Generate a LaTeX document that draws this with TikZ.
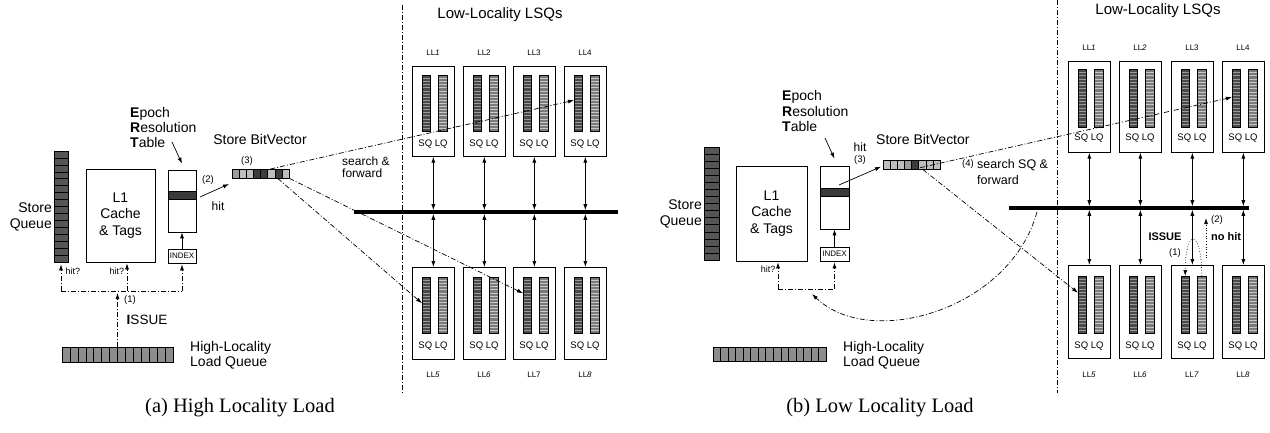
\documentclass[tikz,border=0pt]{standalone}
\usepackage{fontspec}
\setmainfont{Liberation Sans}
\newfontfamily\capfont{Liberation Serif}
\usetikzlibrary{arrows.meta,calc}
\definecolor{sqdark}{HTML}{4A4A4A}
\definecolor{sqline}{HTML}{9A9A9A}
\definecolor{lqmid}{HTML}{7A7A7A}
\definecolor{lqline}{HTML}{C8C8C8}
\definecolor{stq}{HTML}{555555}
\definecolor{ldq}{HTML}{8C8C8C}
\definecolor{bvl}{HTML}{BEBEBE}
\definecolor{bvm}{HTML}{9C9C9C}
\definecolor{bvd}{HTML}{3C3C3C}
\definecolor{band}{HTML}{3A3A3A}
\tikzset{
  vcells/.style n args={3}{path picture={\foreach \k in {1,...,#1}{\pgfmathsetmacro\ff{\k/#2}\draw[#3] ($(path picture bounding box.north west)!\ff!(path picture bounding box.south west)$) -- ($(path picture bounding box.north east)!\ff!(path picture bounding box.south east)$);}}},
  hcells/.style n args={3}{path picture={\foreach \k in {1,...,#1}{\pgfmathsetmacro\ff{\k/#2}\draw[#3] ($(path picture bounding box.north west)!\ff!(path picture bounding box.north east)$) -- ($(path picture bounding box.south west)!\ff!(path picture bounding box.south east)$);}}},
  lsqbox/.style={draw, line width=0.7pt, minimum width=42, inner sep=0, anchor=north west},
  sqc/.style={draw, line width=0.5pt, fill=sqdark, minimum width=8, inner sep=0, anchor=north west, vcells={17}{18}{sqline,line width=0.6pt}},
  lqc/.style={draw, line width=0.5pt, fill=lqmid, minimum width=9, inner sep=0, anchor=north west, vcells={17}{18}{lqline,line width=0.6pt}},
  plainbox/.style={draw, line width=0.7pt, inner sep=0},
  t14/.style={inner sep=0, font=\fontsize{14}{16}\selectfont},
  t12/.style={inner sep=0, font=\fontsize{12}{12.5}\selectfont},
  t95/.style={inner sep=0, font=\fontsize{9.5}{11}\selectfont},
  t9/.style={inner sep=0, font=\fontsize{9}{10}\selectfont},
  t8/.style={inner sep=0, font=\fontsize{8}{9}\selectfont},
  capt/.style={inner sep=0, font=\capfont\fontsize{20.5}{22}\selectfont},
  arr/.style={-{Latex[length=6pt,width=4pt]}, line width=0.7pt},
  dblarr/.style={{Latex[length=6pt,width=4pt]}-{Latex[length=6pt,width=4pt]}, line width=0.7pt},
  dd/.style={line width=0.6pt, dash pattern=on 5pt off 2pt on 1pt off 2pt},
  bus/.style={line width=3.5pt},
}
\newcommand\lsq[9]{%
  \node[lsqbox, minimum height=#4] (#1) at (#2,#3) {};
  \node[sqc, minimum height=#6] (#1sq) at (#2+10,#3+#5) {};
  \node[lqc, minimum height=#6] (#1lq) at (#2+26,#3+#5) {};
  \node[t95] (#1txt) at (#2+21,#3+#7) {SQ LQ};
  \node[t8] (#1lab) at (#2+21,#9) {#8};
}
\begin{document}
\begin{tikzpicture}[x=1pt,y=-1pt]
\useasboundingbox (0,0) rectangle (1270,433);

%%%%%%%%%%%%%%%% (a) LEFT PANEL %%%%%%%%%%%%%%%%
\node[draw, line width=0.6pt, fill=stq, minimum width=14, minimum height=111, inner sep=0, vcells={15}{16}{black,line width=0.5pt}] (aSQ) at (61,206.5) {};
\node[t14, align=right, anchor=east] (aSQt) at (52,217) {Store\\Queue};
\node[plainbox, minimum width=69, minimum height=93] (aL1) at (120.5,215.5) {};
\node[t14, align=center, font=\fontsize{14}{16.8}\selectfont] (aL1t) at (aL1) {L1\\Cache\\\& Tags};
\node[plainbox, minimum width=28, minimum height=62] (aERT) at (182,201) {};
\draw[fill=band, line width=0.6pt] (168,191) rectangle (196,199);
\node[plainbox, minimum width=28, minimum height=14, font=\fontsize{8}{9}\selectfont] (aIDX) at (182,256) {INDEX};
\node[t14, align=left, anchor=west, font=\fontsize{14}{15}\selectfont] (aERTt) at (130,127) {\textbf{E}poch\\\textbf{R}esolution\\\textbf{T}able};
\coordinate (aERTa) at (172,142);
\draw[arr] (aERTa) -- ([yshift=6pt]aERT.north);
\draw[arr] (aIDX.north) -- (aERT.south);

% bit vector
\foreach \c [count=\i from 0] in {bvm,bvl,bvl,bvd,bvd,bvl,bvd,bvl}
  \draw[fill=\c, line width=0.5pt] (232+\i*7.125,169) rectangle ++(7.125,9);
\node[minimum width=57, minimum height=9, inner sep=0, anchor=north west] (aBV) at (232,169) {};
\node[t14] (aBVt) at (260,139) {Store BitVector};
\node[t95] (a3) at (247,161) {(3)};
\coordinate (aHitS) at (200,197);
\coordinate (aHitE) at (229,184);
\draw[arr] (aHitS) -- (aHitE);
\node[t95] (a2) at (208,180) {(2)};
\node[t12] (aHit) at (218,206) {hit};

% issue paths
\coordinate (aJL) at (61,291);
\coordinate (aJM) at (127,291);
\coordinate (aJR) at (182,291);
\coordinate (aJI) at (117.5,291);
\draw[dd] (aJL) -- (aJR);
\draw[dd, arr] (aJL) -- ([yshift=-2pt]aSQ.south);
\draw[dd, arr] (aJM) -- ([yshift=-1pt]aJM |- aL1.south);
\draw[dd, arr] (aJR) -- ([yshift=-1pt]aIDX.south);
\node[draw, line width=0.6pt, fill=ldq, minimum width=111, minimum height=15, inner sep=0, hcells={13}{14}{black,line width=0.5pt}] (aLQ) at (117.5,354.5) {};
\draw[dd, arr] (aLQ.north) -- ([yshift=-2pt]aJI);
\node[t9] (aHq1) at (73,271) {hit?};
\node[t9] (aHq2) at (117,271) {hit?};
\node[t95] (a1) at (130,300) {(1)};
\node[t14, font=\fontsize{13.5}{15}\selectfont] (aIss) at (147,320) {\textbf{I}SSUE};
\node[t14, align=left, anchor=west, font=\fontsize{14}{15}\selectfont] (aLQt) at (190,355.5) {High-Locality\\Load Queue};

% separator
\coordinate (aSepT) at (402,5);
\coordinate (aSepB) at (402,393);
\draw[dd] (aSepT) -- (aSepB);

% LSQs
\node[t14, font=\fontsize{15}{16}\selectfont] (aLLt) at (500,15) {Low-Locality LSQs};
\lsq{aT1}{412}{66}{90}{9}{56}{78}{LL\textit{1}}{53}
\lsq{aT2}{463}{66}{90}{9}{56}{78}{LL2}{53}
\lsq{aT3}{513}{66}{90}{9}{56}{78}{LL3}{53}
\lsq{aT4}{564}{66}{90}{9}{56}{78}{LL4}{53}
\lsq{aB1}{412}{267}{92}{10}{56}{79}{LL\textit{5}}{375}
\lsq{aB2}{463}{267}{92}{10}{56}{79}{LL\textit{6}}{375}
\lsq{aB3}{513}{267}{92}{10}{56}{79}{LL7}{375}
\lsq{aB4}{564}{267}{92}{10}{56}{79}{LL\textit{8}}{375}
\coordinate (aBusL) at (354,212);
\coordinate (aBusR) at (618,212);
\draw[bus] (aBusL) -- (aBusR);
\foreach \n in {aT1,aT2,aT3,aT4}
  \draw[dblarr, shorten >=1.8pt] (\n.south) -- (\n.south |- aBusL);
\foreach \n in {aB1,aB2,aB3,aB4}
  \draw[dblarr, shorten >=1.8pt] (\n.north) -- (\n.north |- aBusL);

\draw[dd, arr] ([xshift=-19pt]aBV.north east) -- ([yshift=3pt]aT4sq.west);
\draw[dd, arr] (aBV.south east) -- ([yshift=12pt]aB3sq.west);
\draw[dd, arr] ([xshift=17pt]aBV.south) -- ([yshift=2pt]aB1sq.west);
\node[t12, align=left, anchor=west] (aSF) at (342,167) {search \&\\forward};

\node[capt] (aCap) at (240,408) {(a) High Locality Load};

%%%%%%%%%%%%%%%% (b) RIGHT PANEL %%%%%%%%%%%%%%%%
\node[draw, line width=0.6pt, fill=stq, minimum width=15, minimum height=113, inner sep=0, vcells={15}{16}{black,line width=0.5pt}] (bSQ) at (711.5,203.5) {};
\node[t14, align=right, anchor=east] (bSQt) at (702,214) {Store\\Queue};
\node[plainbox, minimum width=71, minimum height=95] (bL1) at (771.5,213.5) {};
\node[t14, align=center, font=\fontsize{14}{16.8}\selectfont] (bL1t) at (bL1) {L1\\Cache\\\& Tags};
\node[plainbox, minimum width=29, minimum height=63] (bERT) at (834.5,197.5) {};
\draw[fill=band, line width=0.6pt] (820,188) rectangle (849,196);
\node[plainbox, minimum width=29, minimum height=14, font=\fontsize{8}{9}\selectfont] (bIDX) at (834.5,254) {INDEX};
\node[t14, align=left, anchor=west, font=\fontsize{14}{15.5}\selectfont] (bERTt) at (782,111) {\textbf{E}poch\\\textbf{R}esolution\\\textbf{T}able};
\coordinate (bERTa) at (825,138);
\draw[arr] (bERTa) -- ([yshift=7pt]bERT.north);
\draw[arr] (bIDX.north) -- (bERT.south);

\foreach \c [count=\i from 0] in {bvl,bvl,bvl,bvm,bvd,bvl,bvl,bvl}
  \draw[fill=\c, line width=0.5pt] (883+\i*7.125,160) rectangle ++(7.125,9);
\node[minimum width=57, minimum height=9, inner sep=0, anchor=north west] (bBV) at (883,160) {};
\node[t14, anchor=west] (bBVt) at (876,139) {Store BitVector};
\coordinate (bHitS) at (839,185);
\draw[arr] (bHitS) -- ([xshift=-2pt,yshift=-2pt]bBV.west);
\node[t12] (bHit) at (860,147) {hit};
\node[t95] (b3) at (860,160) {(3)};

\coordinate (bJL) at (778,289);
\coordinate (bJR) at (834.5,289);
\draw[dd] (bJL) -- (bJR);
\draw[dd, arr] (bJL) -- ([yshift=-1pt]bJL |- bL1.south);
\draw[dd, arr] (bJR) -- ([yshift=-1pt]bIDX.south);
\node[t9] (bHq) at (768,269) {hit?};
\node[draw, line width=0.6pt, fill=ldq, minimum width=113, minimum height=14, inner sep=0, hcells={14}{15}{black,line width=0.5pt}] (bLQ) at (769.5,354) {};
\node[t14, align=left, anchor=west, font=\fontsize{14}{15}\selectfont] (bLQt) at (843,355.5) {High-Locality\\Load Queue};

\coordinate (bSepT) at (1057,0);
\coordinate (bSepB) at (1057,393);
\draw[dd] (bSepT) -- (bSepB);

\node[t14, font=\fontsize{15}{16}\selectfont] (bLLt) at (1158,11) {Low-Locality LSQs};
\lsq{bT1}{1068}{61}{91}{8}{58}{77}{LL\textit{1}}{48}
\lsq{bT2}{1119}{61}{91}{8}{58}{77}{LL\textit{2}}{48}
\lsq{bT3}{1171}{61}{91}{8}{58}{77}{LL3}{48}
\lsq{bT4}{1222}{61}{91}{8}{58}{77}{LL4}{48}
\lsq{bB1}{1068}{265}{93}{11}{57}{81}{LL\textit{5}}{375}
\lsq{bB2}{1119}{265}{93}{11}{57}{81}{LL\textit{6}}{375}
\lsq{bB3}{1171}{265}{93}{11}{57}{81}{LL\textit{7}}{375}
\lsq{bB4}{1222}{265}{93}{11}{57}{81}{LL\textit{8}}{375}
\coordinate (bBusL) at (1009,208);
\coordinate (bBusR) at (1249,208);
\draw[bus] (bBusL) -- (bBusR);
\foreach \n in {bT1,bT2,bT3,bT4}
  \draw[dblarr, shorten >=1.8pt] (\n.south) -- (\n.south |- bBusL);
\foreach \n in {bB1,bB2,bB3,bB4}
  \draw[dblarr, shorten >=1.8pt] (\n.north) -- (\n.north |- bBusL);

\draw[dd, arr] ([xshift=8.5pt,yshift=-3pt]bBV.center) -- ([yshift=1pt]bT4sq.west);
\draw[dd, arr] ([xshift=11pt]bBV.south) -- ([yshift=12pt]bB1sq.west);
\node[t95] (b4) at (968,164) {(4)};
\node[t12, align=left, anchor=west, font=\fontsize{12.5}{16}\selectfont] (bSF) at (977,172) {search SQ \&\\forward};

% returning curve
\coordinate (bCurS) at (1037,212);
\coordinate (bCurE) at (812,294);
\draw[dd, arr] (bCurS) .. controls (1010,310) and (870,350) .. (bCurE);

% issue in LL7
\draw[dotted, line width=0.8pt, arr] (bB3lq.north) .. controls +(0,-48) and +(0,-48) .. (bB3sq.north);
\coordinate (bNhS) at (1206,258);
\coordinate (bNhE) at (1206,218);
\draw[dotted, line width=0.8pt, arr] (bNhS) -- (bNhE);
\node[inner sep=0, font=\bfseries\fontsize{11}{12}\selectfont] (bIss) at (1165,237) {ISSUE};
\node[inner sep=0, font=\bfseries\fontsize{11}{12}\selectfont] (bNh) at (1226,237) {no hit};
\node[t95] (b1) at (1175,253) {(1)};
\node[t95] (b2) at (1217,220) {(2)};

\node[capt] (bCap) at (880,408) {(b) Low Locality Load};
\end{tikzpicture}
\end{document}
